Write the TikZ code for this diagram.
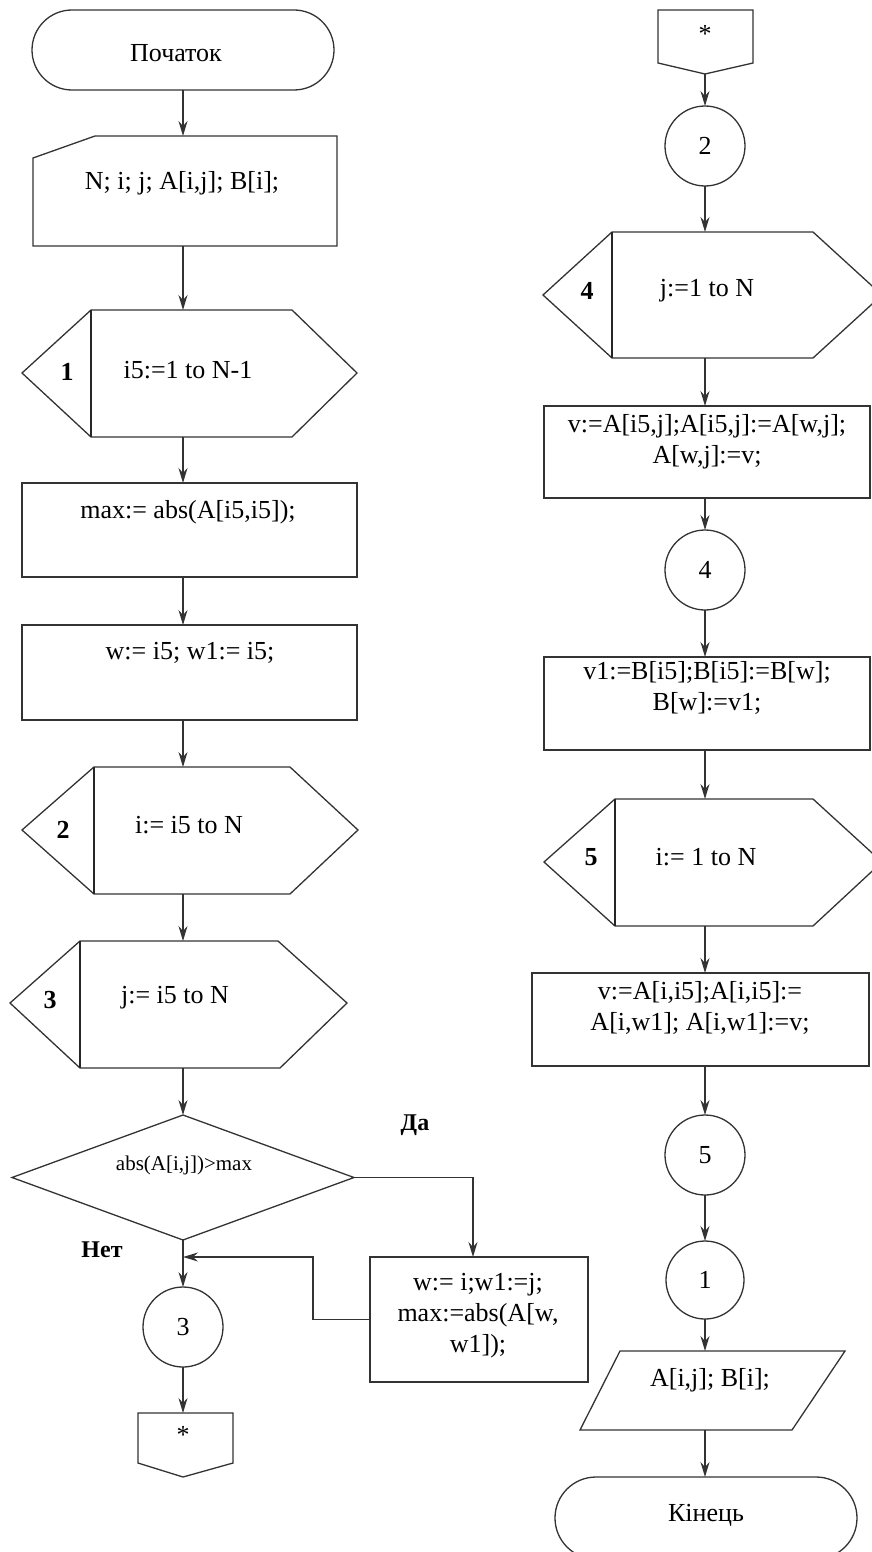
\documentclass[tikz,border=0pt]{standalone}
\usepackage{fontspec}
\setmainfont{Liberation Serif}
\usetikzlibrary{arrows.meta,shapes.misc,shapes.geometric}
\begin{document}
\begin{tikzpicture}[x=1pt,y=-1pt,
  ln/.style={draw=black!80, line width=1.3pt},
  arr/.style={ln, -{Stealth[length=15pt,width=9pt,inset=5pt]}},
  ghost/.style={inner sep=0pt, outer sep=0pt, draw=none},
  txt/.style={font=\fontsize{26}{31}\selectfont, inner sep=0pt, align=center},
  btxt/.style={font=\bfseries\fontsize{26}{31}\selectfont, inner sep=0pt},
  stxt/.style={font=\fontsize{21}{25}\selectfont, inner sep=0pt},
  lbl/.style={font=\bfseries\fontsize{24}{28}\selectfont, inner sep=0pt},
  box/.style={ln, rectangle, inner sep=0pt, outer sep=0pt},
  term/.style={ln, rounded rectangle, inner sep=0pt, outer sep=0pt},
  conn/.style={ln, circle, minimum size=80pt, inner sep=0pt, outer sep=0pt, font=\fontsize{26}{31}\selectfont},
  thick div/.style={draw=black!85, line width=2pt}
]
\useasboundingbox (0,0) rectangle (872,1552);
\clip (0,0) rectangle (872,1552);
\fill[white] (0,0) rectangle (872,1552);

\coordinate (colL) at (183,0);
\coordinate (colR) at (705,0);

% ---------------- left column ----------------
\node[term, minimum width=302pt, minimum height=80pt] (start) at (183,50) {};
\node[txt] (startT) at (176,53) {Початок};

\node[ghost, minimum width=304pt, minimum height=110pt] (inp) at (185,191) {};
\draw[ln] (33,158) -- (95,136) -- (337,136) -- (337,246) -- (33,246) -- cycle;
\node[txt] (inpT) at (182,183) {N; i; j; A[i,j]; B[i];};

\node[ghost, minimum width=335pt, minimum height=127pt] (h1) at (189.5,373.5) {};
\draw[ln] (91,310) -- (292,310) -- (357,373) -- (292,437) -- (91,437) -- (22,373) -- cycle;
\draw[thick div] (91,310) -- (91,437);
\node[btxt] (h1N) at (67,372) {1};
\node[txt] (h1T) at (188,370) {i5:=1 to N-1};

\node[box, minimum width=335pt, minimum height=94pt] (maxb) at (189.5,530) {};
\node[txt] (maxT) at (188,512) {max:= abs(A[i5,i5]);};

\node[box, minimum width=335pt, minimum height=95pt] (wb) at (189.5,672.5) {};
\node[txt] (wT) at (190,653) {w:= i5; w1:= i5;};

\node[ghost, minimum width=336pt, minimum height=127pt] (h2) at (190,830.5) {};
\draw[ln] (94,767) -- (290,767) -- (358,830) -- (290,894) -- (94,894) -- (22,830) -- cycle;
\draw[thick div] (94,767) -- (94,894);
\node[btxt] (h2N) at (63,830) {2};
\node[txt] (h2T) at (189,825) {i:= i5 to N};

\node[ghost, minimum width=337pt, minimum height=127pt] (h3) at (178.5,1004.5) {};
\draw[ln] (80,941) -- (278,941) -- (347,1003) -- (280,1068) -- (80,1068) -- (10,1003) -- cycle;
\draw[thick div] (80,941) -- (80,1068);
\node[btxt] (h3N) at (50,1000) {3};
\node[txt] (h3T) at (175,998) {j:= i5 to N};

\node[ln, diamond, minimum width=342pt, minimum height=125pt, inner sep=0pt, outer sep=0pt] (dia) at (183,1177.5) {};
\node[stxt] (diaT) at (184,1165) {abs(A[i,j])>max};

\node[lbl] (yes) at (415,1125) {Да};
\node[lbl] (no) at (102,1250) {Нет};

\node[box, minimum width=218pt, minimum height=125pt] (w2) at (479,1319.5) {};
\node[txt] (w2T) at (478,1316) {w:= i;w1:=j;\\max:=abs(A[w,\\w1]);};

\node[conn] (c3) at (183,1327) {3};

\node[ghost, minimum width=95pt, minimum height=64pt] (off1) at (185.5,1445) {};
\draw[ln] (138,1413) -- (233,1413) -- (233,1463) -- (183,1477) -- (138,1463) -- cycle;
\node[txt] (off1T) at (183,1435) {*};

\coordinate (join) at (183,1257);

% left connectors
\draw[arr] (start.south) -- (inp.north -| colL);
\draw[arr] (inp.south -| colL) -- (h1.north -| colL);
\draw[arr] (h1.south -| colL) -- (maxb.north -| colL);
\draw[arr] (maxb.south -| colL) -- (wb.north -| colL);
\draw[arr] (wb.south -| colL) -- (h2.north -| colL);
\draw[arr] (h2.south -| colL) -- (h3.north -| colL);
\draw[arr] (h3.south -| colL) -- (dia.north);
\draw[arr] (dia.south) -- (c3.north);
\draw[arr] (c3.south) -- (off1.north -| colL);
\draw[arr] (dia.east) -| ([xshift=-6pt]w2.north);
\draw[arr] (w2.west) -| (313,1257) -- (join);

% ---------------- right column ----------------
\node[ghost, minimum width=95pt, minimum height=64pt] (off2) at (705.5,42) {};
\draw[ln] (658,10) -- (753,10) -- (753,63) -- (705,74) -- (658,63) -- cycle;
\node[txt] (off2T) at (705,34) {*};

\node[conn] (c2) at (705,146) {2};

\node[ghost, minimum width=339pt, minimum height=126pt] (h4) at (712.5,295) {};
\draw[ln] (612,232) -- (813,232) -- (882,295) -- (813,358) -- (612,358) -- (543,295) -- cycle;
\draw[thick div] (612,232) -- (612,358);
\node[btxt] (h4N) at (587,291) {4};
\node[txt] (h4T) at (707,291) {j:=1 to N};

\node[box, minimum width=326pt, minimum height=92pt] (vb) at (707,452) {};
\node[txt] (vT) at (707,442) {v:=A[i5,j];A[i5,j]:=A[w,j];\\A[w,j]:=v;};

\node[conn] (c4) at (705,570) {4};

\node[box, minimum width=326pt, minimum height=93pt] (v1b) at (707,703.5) {};
\node[txt] (v1T) at (707,688) {v1:=B[i5];B[i5]:=B[w];\\B[w]:=v1;};

\node[ghost, minimum width=338pt, minimum height=127pt] (h5) at (713,862.5) {};
\draw[ln] (615,799) -- (813,799) -- (882,862) -- (813,926) -- (615,926) -- (544,862) -- cycle;
\draw[thick div] (615,799) -- (615,926);
\node[btxt] (h5N) at (591,857) {5};
\node[txt] (h5T) at (706,857) {i:= 1 to N};

\node[box, minimum width=337pt, minimum height=93pt] (vAb) at (700.5,1019.5) {};
\node[txt] (vAT) at (700,1008) {v:=A[i,i5];A[i,i5]:=\\A[i,w1]; A[i,w1]:=v;};

\node[conn] (c5) at (705,1155) {5};
\node[conn, minimum size=78pt] (c1) at (705,1280) {1};

\node[ghost, minimum width=265pt, minimum height=79pt] (par) at (712.5,1390.5) {};
\draw[ln] (620,1351) -- (845,1351) -- (792,1430) -- (580,1430) -- cycle;
\node[txt] (parT) at (710,1380) {A[i,j]; B[i];};

\node[term, minimum width=302pt, minimum height=82pt] (end) at (706,1518) {};
\node[txt] (endT) at (706,1515) {Кінець};

% right connectors
\draw[arr] (off2.south -| colR) -- (c2.north);
\draw[arr] (c2.south) -- (h4.north -| colR);
\draw[arr] (h4.south -| colR) -- (vb.north -| colR);
\draw[arr] (vb.south -| colR) -- (c4.north);
\draw[arr] (c4.south) -- (v1b.north -| colR);
\draw[arr] (v1b.south -| colR) -- (h5.north -| colR);
\draw[arr] (h5.south -| colR) -- (vAb.north -| colR);
\draw[arr] (vAb.south -| colR) -- (c5.north);
\draw[arr] (c5.south) -- (c1.north);
\draw[arr] (c1.south) -- (par.north -| colR);
\draw[arr] (par.south -| colR) -- (end.north -| colR);
\end{tikzpicture}
\end{document}
